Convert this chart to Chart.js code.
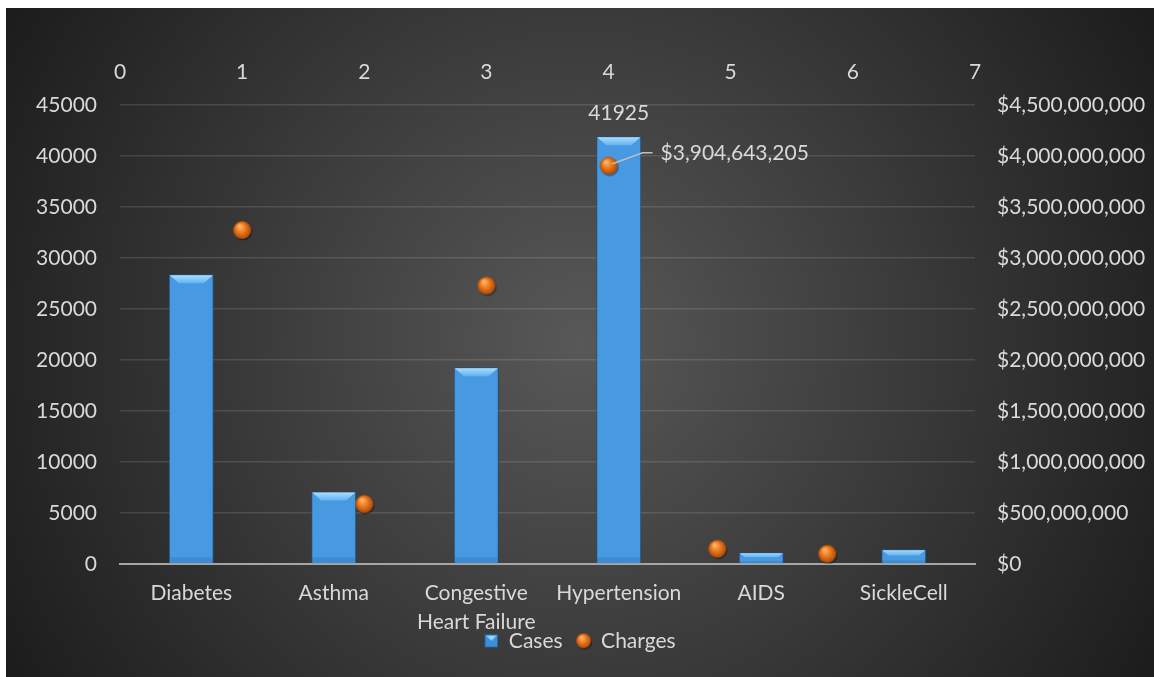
<!DOCTYPE html>
<html>
<head>
<meta charset="utf-8">
<script src="https://cdn.jsdelivr.net/npm/chart.js@4"></script>
<style>
  body { margin: 0; background: #fff; }
  #wrap { position: absolute; left: 6px; top: 8px; width: 1148px; height: 669px; }
</style>
</head>
<body>
<div id="wrap"><canvas id="grafico"></canvas></div>
<script>
// Datos
const categorias = ["Diabetes", "Asthma", ["Congestive", "Heart Failure"], "Hypertension", "AIDS", "SickleCell"];
const casos = [28400, 7100, 19300, 41925, 1150, 1450];
const cargosX = [1, 2, 3, 4, 4.89, 5.79];
const cargos = [3275000000, 590000000, 2730000000, 3904643205, 150000000, 100000000];
const indiceEtiqueta = 3; // solo Hypertension lleva etiquetas

// Ejes
const casosMax = 45000, casosPaso = 5000;
const cargosMax = 4500000000, cargosPaso = 500000000;
const superiorMax = 7, superiorPaso = 1;

const colorTexto = "#d9d9d9";
const fuente = { family: "Lato", size: 21, lineHeight: 1.42 };

function crearEsfera(d) {
  const c = document.createElement("canvas");
  c.width = c.height = d + 4;
  const g = c.getContext("2d");
  const cx = c.width / 2, cy = c.height / 2, r = d / 2;
  g.fillStyle = "rgba(0,0,0,0.35)";
  g.beginPath(); g.arc(cx + 1.2, cy + 1.5, r, 0, 2 * Math.PI); g.fill();
  const gr = g.createRadialGradient(cx - r * 0.3, cy - r * 0.45, r * 0.1, cx, cy, r);
  gr.addColorStop(0, "#ffb56c");
  gr.addColorStop(0.45, "#f07d20");
  gr.addColorStop(1, "#a9490a");
  g.fillStyle = gr;
  g.beginPath(); g.arc(cx, cy, r, 0, 2 * Math.PI); g.fill();
  return c;
}

function crearIconoCasos(s) {
  const c = document.createElement("canvas");
  c.width = c.height = s;
  const g = c.getContext("2d");
  g.fillStyle = "#1f4f80";
  g.fillRect(0, 0, s, s);
  g.fillStyle = "#3f8fd8";
  g.fillRect(1, 1, s - 2, s - 2);
  g.fillStyle = "#9ad4ff";
  g.beginPath(); g.moveTo(2, 2); g.lineTo(s - 2, 2); g.lineTo(s / 2, s / 2); g.closePath(); g.fill();
  return c;
}

const esfera = crearEsfera(18);
const esferaLeyenda = crearEsfera(15);
const iconoCasos = crearIconoCasos(14);

// Fondo con degradado radial
const fondo = {
  id: "fondo",
  beforeDraw(chart) {
    const { ctx, width, height } = chart;
    const g = ctx.createRadialGradient(width * 0.5, height * 0.5, 0, width * 0.5, height * 0.5, Math.hypot(width, height) * 0.5);
    g.addColorStop(0, "#585858");
    g.addColorStop(1, "#1c1c1c");
    ctx.save();
    ctx.fillStyle = g;
    ctx.fillRect(0, 0, width, height);
    ctx.restore();
  }
};

// Bisel superior de las barras
const bisel = {
  id: "bisel",
  afterDatasetDraw(chart, args) {
    if (args.index !== 0) return;
    const ctx = chart.ctx;
    args.meta.data.forEach(bar => {
      const { x, y, width, base } = bar.getProps(["x", "y", "width", "base"], true);
      const l = x - width / 2 + 1, r = x + width / 2 - 1, h = base - y;
      const b = Math.min(9, h * 0.45);
      ctx.save();
      const g = ctx.createLinearGradient(0, y, 0, y + b);
      g.addColorStop(0, "#b5e2ff");
      g.addColorStop(1, "#5fb2f2");
      ctx.fillStyle = g;
      ctx.beginPath();
      ctx.moveTo(l, y + 1); ctx.lineTo(r, y + 1); ctx.lineTo(r - b, y + b); ctx.lineTo(l + b, y + b);
      ctx.closePath(); ctx.fill();
      ctx.fillStyle = "rgba(20,60,110,0.15)";
      ctx.fillRect(l, base - Math.min(6, h * 0.2), r - l, Math.min(6, h * 0.2));
      ctx.restore();
    });
  }
};

// Etiquetas de datos
const etiquetas = {
  id: "etiquetas",
  afterDatasetsDraw(chart) {
    const ctx = chart.ctx;
    const bar = chart.getDatasetMeta(0).data[indiceEtiqueta];
    const pt = chart.getDatasetMeta(1).data[indiceEtiqueta];
    ctx.save();
    ctx.font = fuente.size + "px " + fuente.family;
    ctx.fillStyle = colorTexto;
    ctx.textAlign = "center";
    ctx.textBaseline = "middle";
    ctx.fillText(String(casos[indiceEtiqueta]), bar.x, bar.y - 23);
    ctx.strokeStyle = "#bfbfbf";
    ctx.lineWidth = 1.5;
    ctx.beginPath();
    ctx.moveTo(pt.x + 4, pt.y - 2);
    ctx.lineTo(pt.x + 34, pt.y - 13);
    ctx.lineTo(pt.x + 44, pt.y - 13);
    ctx.stroke();
    ctx.textAlign = "left";
    ctx.fillText("$" + cargos[indiceEtiqueta].toLocaleString("en-US"), pt.x + 52, pt.y - 12);
    ctx.restore();
  }
};

new Chart(document.getElementById("grafico"), {
  type: "bar",
  data: {
    labels: categorias,
    datasets: [
      {
        label: "Cases",
        data: casos,
        xAxisID: "x",
        yAxisID: "y",
        order: 1,
        grouped: false,
        backgroundColor: "#4799e2",
        borderColor: "#1e4f7f",
        borderWidth: 1,
        categoryPercentage: 1,
        barPercentage: 0.316
      },
      {
        type: "scatter",
        label: "Charges",
        data: cargos.map((v, i) => ({ x: cargosX[i], y: v })),
        xAxisID: "x2",
        yAxisID: "y2",
        order: 0,
        pointStyle: esfera
      }
    ]
  },
  options: {
    responsive: true,
    maintainAspectRatio: false,
    animation: false,
    events: [],
    layout: { padding: { top: 0, left: 0, right: 0, bottom: 15.75 } },
    plugins: {
      tooltip: { enabled: false },
      legend: {
        position: "bottom",
        labels: {
          color: colorTexto,
          font: fuente,
          usePointStyle: true,
          boxWidth: 14,
          boxHeight: 14,
          padding: 14,
          sort: (a, b) => a.datasetIndex - b.datasetIndex,
          generateLabels(chart) {
            const items = Chart.defaults.plugins.legend.labels.generateLabels(chart);
            items.forEach(it => { it.pointStyle = it.datasetIndex === 0 ? iconoCasos : esferaLeyenda; });
            return items;
          }
        }
      }
    },
    scales: {
      x: {
        type: "category",
        position: "bottom",
        grid: { display: false, drawTicks: false },
        border: { display: true, color: "#a6a6a6", width: 2 },
        ticks: { color: colorTexto, font: fuente, padding: 14, maxRotation: 0, autoSkip: false },
        afterFit: s => {
          s.height = 52.25;
          // la segunda línea de "Congestive Heart Failure" sale del recuadro del eje
          s._computeLabelArea = () => undefined;
        }
      },
      x2: {
        type: "linear",
        position: "top",
        min: 0,
        max: superiorMax,
        offset: false,
        grid: { display: false, drawTicks: false, offset: false },
        border: { display: false },
        ticks: { stepSize: superiorPaso, color: colorTexto, font: fuente, padding: 18 },
        afterFit: s => { s.height = 97; }
      },
      y: {
        position: "left",
        min: 0,
        max: casosMax,
        grid: { color: "rgba(255,255,255,0.12)", lineWidth: 1.5, drawTicks: false },
        border: { display: false },
        ticks: { stepSize: casosPaso, color: colorTexto, font: fuente, padding: 23, callback: v => String(v) },
        afterFit: s => { s.width = 114; }
      },
      y2: {
        position: "right",
        min: 0,
        max: cargosMax,
        grid: { display: false, drawTicks: false },
        border: { display: false },
        ticks: { stepSize: cargosPaso, color: colorTexto, font: fuente, padding: 22, callback: v => "$" + v.toLocaleString("en-US") },
        afterFit: s => { s.width = 179; }
      }
    }
  },
  plugins: [fondo, bisel, etiquetas]
});
</script>
</body>
</html>
